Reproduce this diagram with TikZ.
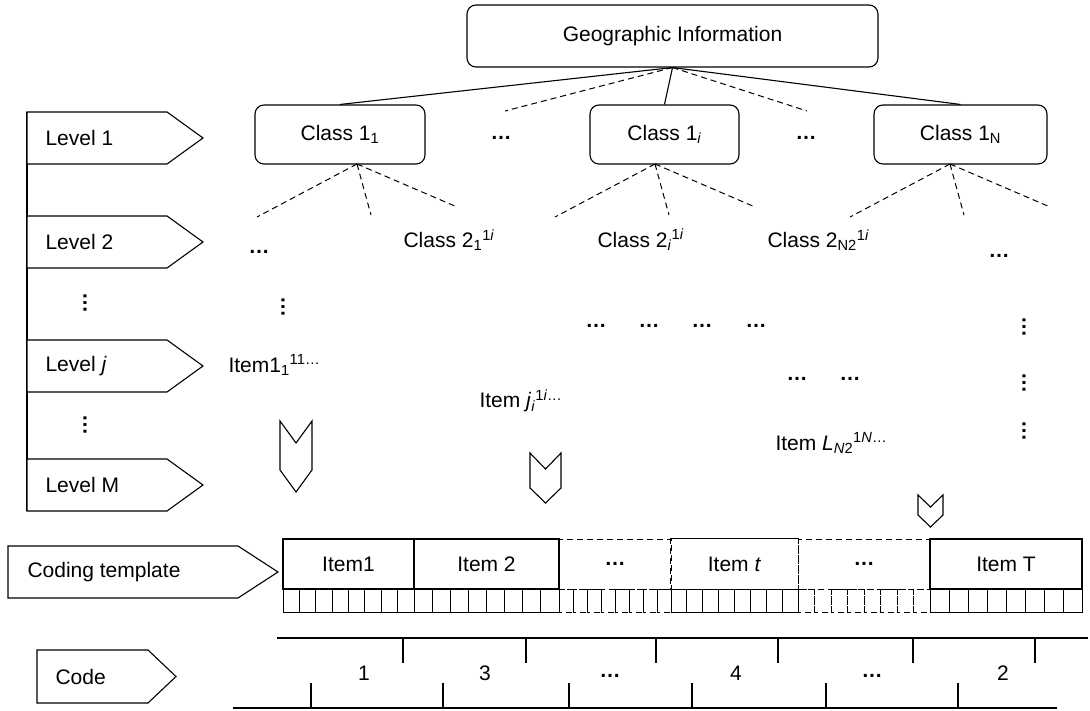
\documentclass[tikz,border=0pt]{standalone}
\usepackage{fontspec}
\setmainfont{Liberation Sans}
\begin{document}
\begin{tikzpicture}[x=1pt,y=-1pt,line width=1.1pt,
	every node/.style={font=\fontsize{21}{25}\selectfont,inner sep=0pt},
	classbox/.style={draw,rounded corners=9pt,minimum height=59pt},
	cellbox/.style={draw,minimum height=50pt},
	dashline/.style={dash pattern=on 6pt off 4pt,line width=1pt},
	dotsnode/.style={font=\fontsize{21}{25}\selectfont\bfseries}]
	\useasboundingbox (0,0) rectangle (1090,711);

	% Draw top of tree
	\node[classbox,minimum width=411,minimum height=62] (geo) at (672.5,36) {Geographic Information};
	\node[classbox,minimum width=170] (c1) at (340,134.5) {Class 1\textsubscript{1}};
	\node[classbox,minimum width=149] (ci) at (664.5,134.5) {Class 1\textsubscript{\textit{i}}};
	\node[classbox,minimum width=173] (cN) at (960.5,134.5) {Class 1\textsubscript{N}};
	\node[dotsnode] (d1) at (501,138) {…};
	\node[dotsnode] (d2) at (806,138) {…};
	\coordinate (e1) at (505,111);
	\coordinate (e2) at (807,111);
	\draw (geo.south) -- (c1.north);
	\draw (geo.south) -- (ci.north);
	\draw (geo.south) -- (cN.north);
	\draw[dashline] (geo.south) -- (e1);
	\draw[dashline] (geo.south) -- (e2);

	% Draw branches of level 2
	\foreach \n/\x in {1/357,2/655,3/950} {
		\coordinate (a\n) at (\x,164);
		\draw[dashline] (a\n) -- ++(-100,53);
		\draw[dashline] (a\n) -- ++(14,51);
		\draw[dashline] (a\n) -- ++(100,43);
	}

	% Level 2 labels
	\node[dotsnode] (d3) at (259,252) {…};
	\node[anchor=west] (k1) at (403,240) {Class 2\textsubscript{1}\textsuperscript{1\textit{i}}};
	\node[anchor=west] (ki) at (597,240) {Class 2\textsubscript{\textit{i}}\textsuperscript{1\textit{i}}};
	\node[anchor=west] (kN) at (767,240) {Class 2\textsubscript{N2}\textsuperscript{1\textit{i}}};
	\node[dotsnode] (d4) at (999,256) {…};

	% Items
	\node[dotsnode,rotate=90] (v1) at (283,307) {…};
	\node[anchor=west] (it1) at (228,365) {Item1\textsubscript{1}\textsuperscript{11…}};
	\node[anchor=west] (itj) at (479,401) {Item \textit{j}\textsubscript{\textit{i}}\textsuperscript{1\textit{i}…}};
	\node[anchor=west] (itL) at (775,443) {Item \textit{L}\textsubscript{\textit{N}2}\textsuperscript{1\textit{N}…}};
	\foreach \x [count=\n] in {596,649,702,756}
		\node[dotsnode] (r\n) at (\x,326) {…};
	\foreach \x [count=\n] in {797,850}
		\node[dotsnode] (s\n) at (\x,379) {…};
	\foreach \y [count=\n] in {327,383,431}
		\node[dotsnode,rotate=90] (w\n) at (1024,\y) {…};

	% Down arrows
	\draw (280,421) -- (296,443) -- (312,421) -- (312,470) -- (296,492) -- (280,470) -- cycle;
	\draw (530,453) -- (545.5,469) -- (561,453) -- (561,488) -- (545.5,503) -- (530,488) -- cycle;
	\draw (918,495) -- (930.5,507) -- (943,495) -- (943,515) -- (930.5,527) -- (918,515) -- cycle;

	% Left column
	\draw (27,112) -- (27,511);
	\foreach \y/\t [count=\n] in {138/Level 1,242/Level 2,366/Level \textit{j},485/Level M} {
		\draw[fill=white] (27,\y-26) -- (167,\y-26) -- (203,\y) -- (167,\y+26) -- (27,\y+26) -- cycle;
		\node[anchor=west] (lv\n) at (45,\y) {\t};
	}
	\node[dotsnode,rotate=90] (v2) at (85,303) {…};
	\node[dotsnode,rotate=90] (v3) at (85,425) {…};
	\draw (8,546) -- (238,546) -- (278,572) -- (238,598) -- (8,598) -- cycle;
	\node[anchor=west] (ct) at (27,572) {Coding template};
	\draw (37,650) -- (148,650) -- (176,676.5) -- (148,703) -- (37,703) -- cycle;
	\node[anchor=west] (cd) at (55,677) {Code};

	% Coding template cells
	\node[cellbox,minimum width=131] (t1) at (348.5,564) {Item1};
	\node[cellbox,minimum width=145] (t2) at (486.5,564) {Item 2};
	\node[cellbox,dashline,minimum width=112] (t3) at (615,564) {\bfseries …};
	\node[minimum width=127,minimum height=50] (t4) at (734.5,564) {Item \textit{t}};
	\node[cellbox,dashline,minimum width=132] (t5) at (864,564) {\bfseries …};
	\node[cellbox,minimum width=152] (t6) at (1006,564) {Item T};
	\draw (t4.north west) -- (t4.north east) (t4.south west) -- (t4.south east);
	\draw[dashline] (t4.north west) -- (t4.south west) (t4.north east) -- (t4.south east);
	\foreach \a/\b/\s in {283/414/solid,414/559/solid,559/671/dashline,671/798/solid,798/930/dashline,930/1082/solid}
		\foreach \k in {0,...,7}
			\draw[\s,line width=1pt] ({\a+\k*(\b-\a)/8},589) rectangle ({\a+(\k+1)*(\b-\a)/8},612);

	% Code row
	\draw (277,638) -- (1088,638);
	\draw (233,708) -- (1057,708);
	\foreach \x in {403,526,656,778,913,1035}
		\draw (\x,638) -- (\x,663);
	\foreach \x in {311,443,569,692,826,958}
		\draw (\x,683) -- (\x,708);
	\foreach \x/\t [count=\n] in {364/1,485/3,736/4,1003/2}
		\node (n\n) at (\x,673) {\t};
	\node[dotsnode] (m1) at (610,676) {…};
	\node[dotsnode] (m2) at (872,676) {…};
\end{tikzpicture}
\end{document}
